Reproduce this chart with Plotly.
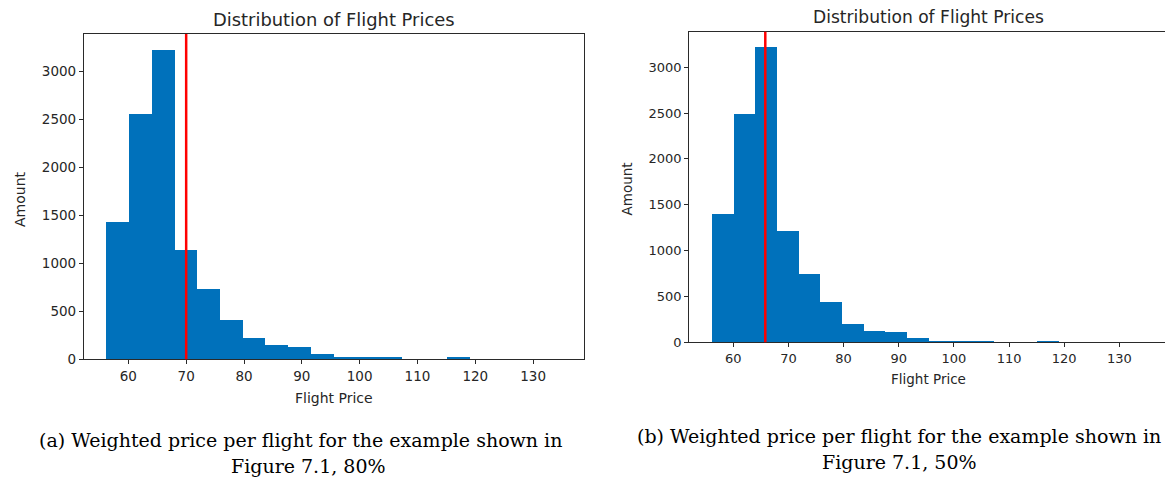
import numpy as np
import plotly.graph_objects as go

# Histogram bins shared by both panels (20 equal-width bins)
bin_start = 56.2
bin_width = 3.93
n_bins = 20

# Bin counts per panel
counts_80 = [1430, 2550, 3222, 1135, 735, 410, 224, 146, 130, 52,
             21, 21, 21, 0, 0, 21, 0, 0, 0, 0]
counts_50 = [1405, 2495, 3224, 1218, 752, 443, 207, 132, 115, 50,
             22, 22, 22, 0, 0, 22, 0, 0, 0, 0]

# Weighted price marked by the vertical red line
price_80 = 70.0
price_50 = 65.8

x_ticks = [60, 70, 80, 90, 100, 110, 120, 130]
y_ticks = [0, 500, 1000, 1500, 2000, 2500, 3000]

panel_title = "Distribution of Flight Prices"
x_label = "Flight Price"
y_label = "Amount"
caption_a = ["(a) Weighted price per flight for the example shown in", "Figure 7.1, 80%"]
caption_b = ["(b) Weighted price per flight for the example shown in", "Figure 7.1, 50%"]

W, H = 1165, 479
BAR_COLOR = "#0071bb"
INK = "#262626"
SANS = "DejaVu Sans"
SERIF = "DejaVu Serif"

centers = bin_start + bin_width * (np.arange(n_bins) + 0.5)


def px(x):
    return x / W


def py(y):
    return 1 - y / H


fig = go.Figure()
fig.add_trace(go.Bar(x=centers, y=counts_80, width=bin_width, marker=dict(color=BAR_COLOR, line=dict(width=0)),
                     xaxis="x", yaxis="y", showlegend=False))
fig.add_trace(go.Bar(x=centers, y=counts_50, width=bin_width, marker=dict(color=BAR_COLOR, line=dict(width=0)),
                     xaxis="x2", yaxis="y2", showlegend=False))

axis_common = dict(showgrid=False, zeroline=False, showline=True, linecolor="#2a2a2a", linewidth=1.2,
                   ticks="outside", ticklen=4, tickwidth=1, tickcolor="#2a2a2a", automargin=False)

fig.update_layout(
    template="none",
    width=W, height=H, margin=dict(l=0, r=0, t=0, b=0, pad=0),
    paper_bgcolor="white", plot_bgcolor="white", bargap=0,
    xaxis=dict(domain=[px(84), px(584)], range=[52.33, 138.8], anchor="y", mirror=True,
               tickvals=x_ticks, tickfont=dict(family=SANS, size=13.5, color=INK), **axis_common),
    yaxis=dict(domain=[py(359.3), py(34)], range=[0, 3385], anchor="x", mirror=True,
               tickvals=y_ticks, tickfont=dict(family=SANS, size=13.5, color=INK), **axis_common),
    xaxis2=dict(domain=[px(689.3), 1.0], range=[52.02, 138.28], anchor="y2", mirror=True,
                tickvals=x_ticks, tickfont=dict(family=SANS, size=13, color=INK), **axis_common),
    yaxis2=dict(domain=[py(342.3), py(31.7)], range=[0, 3387], anchor="x2", mirror=False,
                tickvals=y_ticks, tickfont=dict(family=SANS, size=13, color=INK), **axis_common),
)

# Vertical red lines at the weighted price
fig.add_shape(type="line", xref="x", yref="y domain", x0=price_80, x1=price_80, y0=0, y1=1,
              line=dict(color="#ff0000", width=2.5))
fig.add_shape(type="line", xref="x2", yref="y2 domain", x0=price_50, x1=price_50, y0=0, y1=1,
              line=dict(color="#ff0000", width=2.5))

ann = []
# Panel titles
ann.append(dict(text=panel_title, x=px(334), y=py(19), font=dict(family=SANS, size=17.9, color=INK)))
ann.append(dict(text=panel_title, x=px(928), y=py(17), font=dict(family=SANS, size=17.1, color=INK)))
# Axis labels
ann.append(dict(text=x_label, x=px(334), y=py(397.5), font=dict(family=SANS, size=14, color=INK)))
ann.append(dict(text=x_label, x=px(928), y=py(379), font=dict(family=SANS, size=13.5, color=INK)))
ann.append(dict(text=y_label, x=px(20), y=py(199), textangle=-90, font=dict(family=SANS, size=14, color=INK)))
ann.append(dict(text=y_label, x=px(627), y=py(189.5), textangle=-90, font=dict(family=SANS, size=13.5, color=INK)))
# Captions below the panels
ann.append(dict(text=caption_a[0], x=px(300), y=py(440), font=dict(family=SERIF, size=19, color="#000")))
ann.append(dict(text=caption_a[1], x=px(308), y=py(466), font=dict(family=SERIF, size=19, color="#000")))
ann.append(dict(text=caption_b[0], x=px(899), y=py(436), font=dict(family=SERIF, size=19, color="#000")))
ann.append(dict(text=caption_b[1], x=px(899), y=py(462), font=dict(family=SERIF, size=19, color="#000")))

for a in ann:
    a.update(xref="paper", yref="paper", showarrow=False, xanchor="center", yanchor="middle")
fig.update_layout(annotations=ann)

fig.write_html("out.html")
